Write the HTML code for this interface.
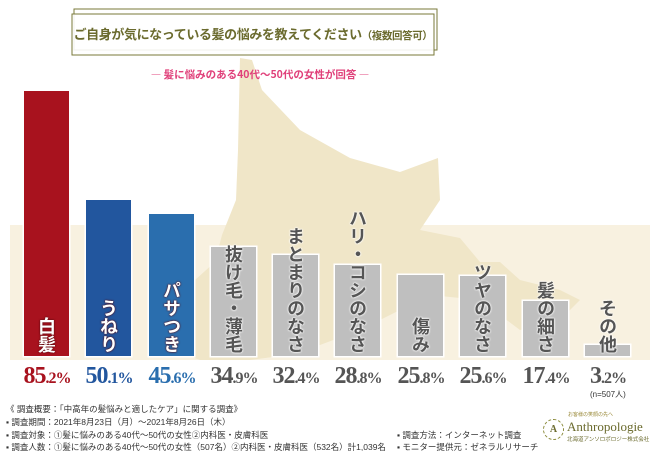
<!DOCTYPE html>
<html><head><meta charset="utf-8"><style>
body{margin:0;width:650px;height:450px;background:#fff;position:relative;overflow:hidden;font-family:"Liberation Sans","Noto Sans CJK JP",sans-serif}
.abs{position:absolute}
.bar{position:absolute;bottom:94px;width:45px;box-shadow:0 0 0 1.5px #fff}
.lab{position:absolute;bottom:97px;writing-mode:vertical-rl;white-space:nowrap;font-family:"Noto Sans CJK JP",sans-serif;font-weight:bold;font-size:18px;line-height:45px;width:45px;text-align:center}
.w{color:#fff;text-shadow:0 0 2px #5a0a10,0 0 1px #5a0a10}
.g{color:#555;text-shadow:0 0 2px #fff,0 0 2px #fff,0 0 1px #fff}
.val{position:absolute;top:363px;width:62px;text-align:center;font-family:"Liberation Serif",serif;font-weight:bold;font-size:24px;color:#555;letter-spacing:-1px;white-space:nowrap}
.val small{font-size:16px}
.ft{position:absolute;font-size:8.5px;color:#333;font-family:"Liberation Sans","Noto Sans CJK JP",sans-serif;white-space:nowrap}
</style></head><body>
<svg class="abs" style="left:0;top:0" width="650" height="450">
<rect x="10" y="225" width="640" height="135" fill="#f8f1e0"/>
<polygon fill="#f0e6c8" points="240,58 252,60 262,90 300,130 350,158 400,172 438,158 440,200 420,230 460,238 480,262 500,262 520,280 560,290 580,300 560,320 520,330 480,300 430,295 400,310 360,330 320,345 280,356 250,360 200,360 160,345 150,320 170,300 195,280 215,262 222,235 236,200 238,150"/>
<rect x="74" y="9" width="363" height="41" fill="none" stroke="#7a7a3a" stroke-width="1"/>
<rect x="72" y="14" width="362" height="41" fill="#fff" fill-opacity="0.9" stroke="#7a7a3a" stroke-width="1"/>
</svg>
<div class="abs" style="left:72px;top:24px;width:362px;text-align:center;font-size:13px;font-weight:bold;color:#6b6b2e;font-family:'Noto Sans CJK JP',sans-serif;white-space:nowrap;letter-spacing:-0.4px">ご自身が気になっている髪の悩みを教えてください<span style="font-size:10.5px">（複数回答可）</span></div>
<div class="abs" style="left:130px;top:67px;width:260px;text-align:center;font-size:10.5px;font-weight:bold;color:#e0407a;font-family:'Noto Sans CJK JP',sans-serif;white-space:nowrap">― 髪に悩みのある40代～50代の女性が回答 ―</div>

<div class="bar" style="left:24px;height:265px;background:#a8121e"></div>
<div class="bar" style="left:86px;height:156px;background:#22569e"></div>
<div class="bar" style="left:149px;height:142px;background:#2a6eae"></div>
<div class="bar" style="left:211px;height:109px;background:#bfbfbf"></div>
<div class="bar" style="left:273px;height:101px;background:#bfbfbf"></div>
<div class="bar" style="left:335px;height:91px;background:#bfbfbf"></div>
<div class="bar" style="left:398px;height:81px;background:#bfbfbf"></div>
<div class="bar" style="left:460px;height:80px;background:#bfbfbf"></div>
<div class="bar" style="left:523px;height:55px;background:#bfbfbf"></div>
<div class="bar" style="left:585px;height:11px;background:#bfbfbf"></div>

<div class="lab w" style="left:24px">白髪</div>
<div class="lab w" style="left:86px">うねり</div>
<div class="lab w" style="left:149px">パサつき</div>
<div class="lab g" style="left:211px">抜け毛・薄毛</div>
<div class="lab g" style="left:273px">まとまりのなさ</div>
<div class="lab g" style="left:335px">ハリ・コシのなさ</div>
<div class="lab g" style="left:398px">傷み</div>
<div class="lab g" style="left:460px">ツヤのなさ</div>
<div class="lab g" style="left:523px">髪の細さ</div>
<div class="lab g" style="left:585px">その他</div>

<div class="val" style="left:16px;color:#a8121e">85<small>.2%</small></div>
<div class="val" style="left:78px;color:#22569e">50<small>.1%</small></div>
<div class="val" style="left:141px;color:#2a6eae">45<small>.6%</small></div>
<div class="val" style="left:203px">34<small>.9%</small></div>
<div class="val" style="left:265px">32<small>.4%</small></div>
<div class="val" style="left:327px">28<small>.8%</small></div>
<div class="val" style="left:390px">25<small>.8%</small></div>
<div class="val" style="left:452px">25<small>.6%</small></div>
<div class="val" style="left:515px">17<small>.4%</small></div>
<div class="val" style="left:577px">3<small>.2%</small></div>
<div class="ft" style="left:590px;top:389px;font-size:8px">(n=507人)</div>

<div class="ft" style="left:6px;top:403px">《 調査概要：「中高年の髪悩みと適したケア」に関する調査》</div>
<div class="ft" style="left:6px;top:416px">▪ 調査期間：2021年8月23日（月）～2021年8月26日（木）</div>
<div class="ft" style="left:6px;top:429px">▪ 調査対象：①髪に悩みのある40代～50代の女性②内科医・皮膚科医</div>
<div class="ft" style="left:6px;top:441px">▪ 調査人数：①髪に悩みのある40代～50代の女性（507名）②内科医・皮膚科医（532名）計1,039名</div>
<div class="ft" style="left:397px;top:429px">▪ 調査方法：インターネット調査</div>
<div class="ft" style="left:397px;top:441px">▪ モニター提供元：ゼネラルリサーチ</div>
<div class="ft" style="left:568px;top:411px;font-size:5px;color:#9a8a3a">お客様の笑顔の先へ</div>
<div class="abs" style="left:543px;top:419px;width:19px;height:19px;border:1px dashed #8a8a3a;border-radius:50%;font:bold 10px 'Liberation Serif',serif;color:#6b6b2e;text-align:center;line-height:19px">A</div>
<div class="abs" style="left:567px;top:419px;font:13px 'Liberation Serif',serif;color:#6b6b2e;white-space:nowrap">Anthropologie</div>
<div class="ft" style="left:567px;top:435px;font-size:5.5px;color:#6b6b2e">北海道アンソロポロジー株式会社</div>
</body></html>
